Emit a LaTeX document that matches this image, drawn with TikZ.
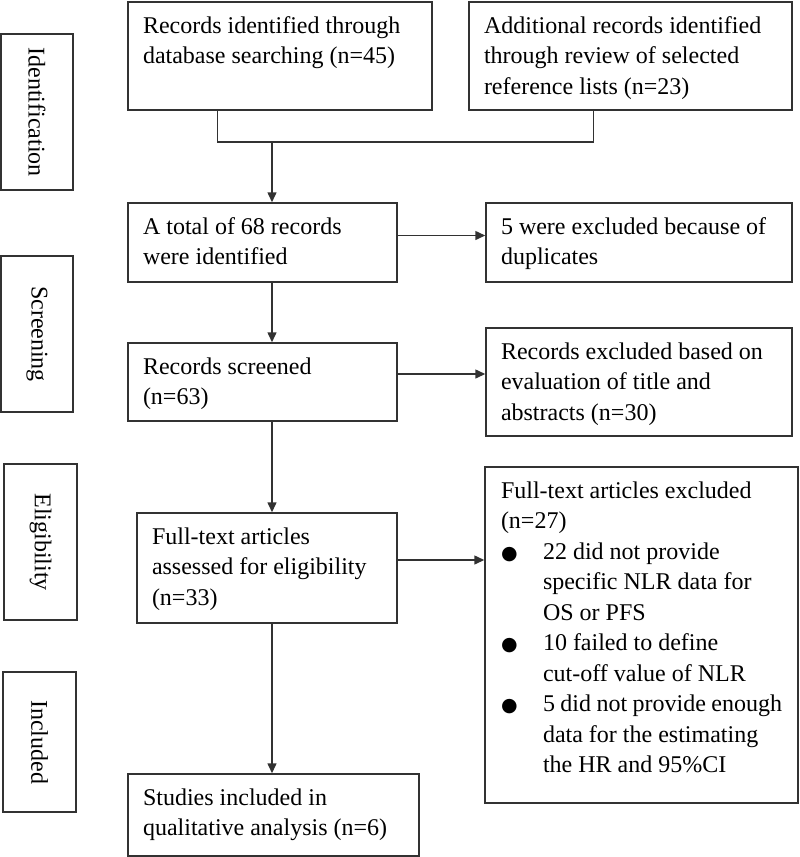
\documentclass[tikz,border=0pt]{standalone}
\usepackage{fontspec}
\setmainfont{Liberation Serif}
\newfontfamily\dejavu{DejaVu Sans}
\usetikzlibrary{arrows.meta}
\newcommand{\bxt}[3]{\parbox[c][#2][t]{#1}{\raggedright\rule{0pt}{31pt}#3}}
\newcommand{\bul}{\makebox[42pt][l]{\hspace{0pt}\raisebox{0pt}{\dejavu\fontsize{19}{19}\selectfont ●}}}
\definecolor{linec}{RGB}{50,50,50}
\begin{document}
\begin{tikzpicture}[x=1pt,y=-1pt,
  font=\fontsize{24}{30.5}\selectfont,
  box/.style={draw=linec,line width=1.5pt,inner xsep=15pt,inner ysep=0pt},
  side/.style={draw=linec,line width=1.5pt,inner sep=0pt,rotate=-90},
  line/.style={draw=linec,line width=1.5pt},
  arr/.style={line,-{Triangle[length=10pt,width=9pt]}}]
\useasboundingbox (0,0) rectangle (800,857);

% side labels
\node[side,minimum width=156pt,minimum height=72pt] (sid) at (37,112) {Identification};
\node[side,minimum width=156pt,minimum height=72pt] (ssc) at (37,334) {Screening};
\node[side,minimum width=156pt,minimum height=73pt] (sel) at (40.5,542) {Eligibility};
\node[side,minimum width=140pt,minimum height=73pt] (sin) at (39.5,742) {Included};

% main boxes
\node[box] (b1) at (280,56) {\bxt{274pt}{108pt}{Records identified through\\database searching (n=45)}};
\node[box] (b2) at (630.5,56) {\bxt{293pt}{108pt}{Additional records identified\\through review of selected\\reference lists (n=23)}};
\node[box] (tot) at (262.5,242.5) {\bxt{239pt}{79pt}{A total of 68 records\\were identified}};
\node[box] (ex1) at (639,242.5) {\bxt{276pt}{79pt}{5 were excluded because of\\duplicates}};
\node[box] (scr) at (262.5,382) {\bxt{239pt}{78pt}{Records screened\\(n=63)}};
\node[box] (ex2) at (639,382) {\bxt{276pt}{108pt}{Records excluded based on\\evaluation of title and\\abstracts (n=30)}};
\node[box] (ft) at (267,568) {\bxt{230pt}{110pt}{Full-text articles\\assessed for eligibility\\(n=33)}};
\node[box,inner xsep=16pt] (ex3) at (641.5,635) {\bxt{281pt}{336pt}{Full-text articles excluded\\(n=27)\par
  \hangindent=42pt\hangafter=1\bul 22 did not provide\newline specific NLR data for\newline OS or PFS\par
  \hangindent=42pt\hangafter=1\bul 10 failed to define\newline cut-off value of NLR\par
  \hangindent=42pt\hangafter=1\bul 5 did not provide enough\newline data for the estimating\newline the HR and 95\%CI}};
\node[box] (st) at (273.5,815) {\bxt{261pt}{82pt}{Studies included in\\qualitative analysis (n=6)}};

% connectors
\coordinate (m) at (272,142);
\draw[line] ([xshift=90pt]b1.south west) |- (m);
\draw[line] ([xshift=125pt]b2.south west) |- (m);
\draw[arr] (m) -- (tot.north -| m);
\draw[arr] (tot.south -| m) -- (scr.north -| m);
\draw[arr] (scr.south -| m) -- (ft.north -| m);
\draw[arr] (ft.south -| m) -- (st.north -| m);
\draw[arr] ([yshift=7pt]tot.east) -- ([yshift=7pt]tot.east -| ex1.west);
\draw[arr] ([yshift=8pt]scr.east) -- ([yshift=8pt]scr.east -| ex2.west);
\draw[arr] ([yshift=8pt]ft.east) -- ([yshift=8pt]ft.east -| ex3.west);
\end{tikzpicture}
\end{document}
